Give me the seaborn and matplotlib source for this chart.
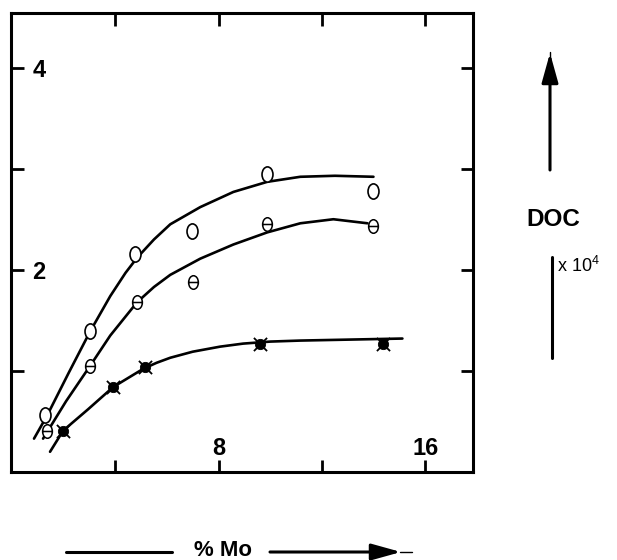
import numpy as np
import pandas as pd
import matplotlib
matplotlib.use("Agg")
import matplotlib.pyplot as plt
from matplotlib.path import Path
import seaborn as sns

sns.set_theme(style="white")
plt.rcParams["font.family"] = ["Liberation Sans", "DejaVu Sans"]
plt.rcParams["text.color"] = "black"
plt.rcParams["xtick.color"] = "black"
plt.rcParams["ytick.color"] = "black"

# ---- data ----
o_x = [1.29, 3.03, 4.77, 6.98, 9.88, 13.99]
o_y = [0.56, 1.39, 2.16, 2.38, 2.95, 2.78]
t_x = [1.37, 3.03, 4.85, 7.02, 9.88, 13.99]
t_y = [0.41, 1.05, 1.68, 1.88, 2.45, 2.43]
s_x = [1.99, 3.92, 5.16, 9.61, 14.34]
s_y = [0.41, 0.84, 1.04, 1.27, 1.27]

curve_o_x = [0.86, 1.37, 2.2, 3.03, 3.81, 4.4, 4.85, 5.5, 6.13, 7.29, 8.57, 9.88, 11.16, 12.5, 13.99]
curve_o_y = [0.33, 0.56, 0.98, 1.39, 1.74, 1.97, 2.12, 2.30, 2.45, 2.62, 2.77, 2.87, 2.92, 2.93, 2.92]
curve_t_x = [1.21, 2.1, 3.03, 3.81, 4.85, 5.5, 6.13, 7.29, 8.57, 9.88, 11.16, 12.44, 13.76]
curve_t_y = [0.33, 0.70, 1.05, 1.35, 1.68, 1.83, 1.95, 2.11, 2.25, 2.37, 2.46, 2.50, 2.46]
curve_s_x = [1.48, 1.99, 2.95, 3.92, 5.08, 5.6, 6.13, 7.0, 8.06, 8.95, 10.0, 11.16, 15.11]
curve_s_y = [0.20, 0.41, 0.62, 0.84, 1.02, 1.08, 1.13, 1.19, 1.24, 1.27, 1.29, 1.30, 1.32]

x_ticks = [4, 8, 12, 16]
x_ticklabels = ["", "8", "", "16"]
y_ticks = [1, 2, 3, 4]
y_ticklabels = ["", "2", "", "4"]

# ---- figure ----
fig = plt.figure(figsize=(6.17, 5.60), dpi=100)
ax = fig.add_axes([11 / 617, 88 / 560, 462 / 617, 459 / 560])

curve_lw = 1.9
for cx, cy in [(curve_o_x, curve_o_y), (curve_t_x, curve_t_y), (curve_s_x, curve_s_y)]:
    sns.lineplot(x=cx, y=cy, ax=ax, color="black", lw=curve_lw, sort=False,
                 estimator=None, zorder=2)

# custom markers
ell = Path.unit_circle()
ell = Path(ell.vertices * np.array([0.72, 1.0]), ell.codes)
bar = Path([[-0.72, 0.0], [0.72, 0.0]], [Path.MOVETO, Path.LINETO])
theta = Path.make_compound_path(ell, bar)

sns.scatterplot(x=o_x, y=o_y, ax=ax, marker=ell, s=120, facecolor="white",
                edgecolor="black", linewidth=1.2, zorder=3)
sns.scatterplot(x=t_x, y=t_y, ax=ax, marker=theta, s=95, facecolor="white",
                edgecolor="black", linewidth=1.1, zorder=3)
sns.scatterplot(x=s_x, y=s_y, ax=ax, marker="o", s=55, color="black",
                edgecolor="black", zorder=3)
sns.scatterplot(x=s_x, y=s_y, ax=ax, marker="x", s=90, color="black",
                linewidth=1.3, zorder=3)

ax.set_xlim(-0.03, 17.84)
ax.set_ylim(0, 4.54)
ax.set_xticks(x_ticks)
ax.set_xticklabels(x_ticklabels)
ax.set_yticks(y_ticks)
ax.set_yticklabels(y_ticklabels)
ax.tick_params(direction="in", length=9, width=2, top=True, right=True,
               bottom=True, left=True, colors="black", labelcolor="black",
               labelsize=17)
ax.tick_params(axis="y", pad=-25)
ax.tick_params(axis="x", pad=-25)
for lab in ax.get_yticklabels() + ax.get_xticklabels():
    lab.set_fontweight("bold")
for sp in ax.spines.values():
    sp.set_visible(True)
    sp.set_linewidth(2.2)
    sp.set_color("black")
ax.set_xlabel("")
ax.set_ylabel("")
ax.grid(False)

# ---- annotations outside the axes ----
arrow_kw = dict(arrowstyle="-|>,head_length=1.8,head_width=0.5", lw=2.2, color="black")
fig.add_artist(matplotlib.patches.FancyArrowPatch((550, 390), (550, 507),
               transform=None, mutation_scale=10, shrinkA=0, shrinkB=0, **arrow_kw))
fig.add_artist(matplotlib.lines.Line2D([550 / 617, 550 / 617],
               [(560 - 60) / 560, (560 - 52) / 560], lw=1.0, color="black"))
fig.text(553 / 617, (560 - 220) / 560, "DOC", fontsize=17.5, fontweight="bold",
         ha="center", va="center")
fig.add_artist(matplotlib.lines.Line2D([552 / 617, 552 / 617],
               [(560 - 257) / 560, (560 - 358) / 560], lw=2.2, color="black"))
fig.text(557 / 617, (560 - 266) / 560, r"x 10$^{\mathregular{4}}$", fontsize=13,
         ha="left", va="center")

# x axis title with arrows
fig.add_artist(matplotlib.lines.Line2D([66 / 617, 172 / 617],
               [8 / 560, 8 / 560], lw=2.2, color="black"))
fig.text(223 / 617, 9 / 560, "% Mo", fontsize=16, fontweight="bold",
         ha="center", va="center")
fig.add_artist(matplotlib.patches.FancyArrowPatch((270, 8), (401, 8),
               transform=None, mutation_scale=10, shrinkA=0, shrinkB=0, **arrow_kw))
fig.add_artist(matplotlib.lines.Line2D([400 / 617, 412 / 617],
               [8 / 560, 8 / 560], lw=1.0, color="black"))

fig.savefig("out.png", dpi=100, facecolor="white")
